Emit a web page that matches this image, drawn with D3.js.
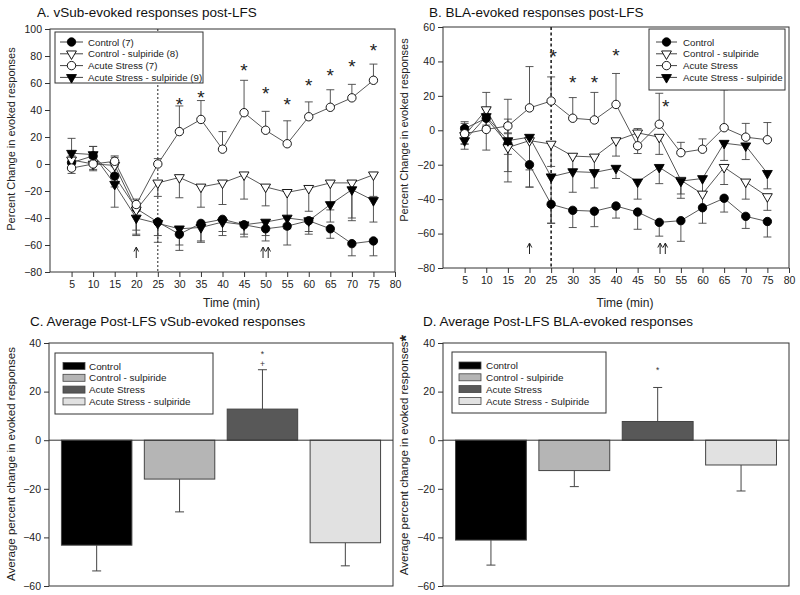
<!DOCTYPE html>
<html><head><meta charset="utf-8">
<script src="https://cdn.jsdelivr.net/npm/d3@7"></script>
<style>body{margin:0;background:#fff}svg{font-family:"Liberation Sans",Arial,sans-serif}</style>
</head><body><svg id="c" width="800" height="595"></svg>
<script>
// ---------- DATA ----------
const times = [5,10,15,20,25,30,35,40,45,50,55,60,65,70,75];
const xTicks = [5,10,15,20,25,30,35,40,45,50,55,60,65,70,75,80];

const A_control      = [1, 6, -9, -33, -43, -52, -44, -41, -45, -48, -46, -42, -48, -59, -57];
const A_control_err  = [5, 7, 8, 20, 15, 12, 14, 9, 9, 9, 14, 8, 7, 9, 11];
const A_ctrlSulp     = [3, 0, -1, -34, -14, -10, -17, -14, -8, -17, -21, -18, -14, -14, -8];
const A_ctrlSulp_err = [5, 5, 6, 15, 10, 15, 15, 16, 18, 14, 18, 17, 20, 26, 16];
const A_as           = [-3, 0, 2, -30, 0, 24, 33, 11, 38, 25, 15, 35, 42, 49, 62];
const A_as_err       = [4, 4, 4, 4, 4, 19, 14, 13, 24, 14, 17, 11, 13, 10, 12];
const A_asSulp       = [8, 7, -15, -40, -44, -48, -47, -43, -45, -43, -40, -42, -30, -19, -27];
const A_asSulp_err   = [11, 6, 17, 12, 9, 12, 10, 10, 7, 10, 8, 10, 13, 23, 16];
const A_starX = [30, 35, 45, 50, 55, 60, 65, 70, 75];
const A_starY = [47, 52, 72, 55, 47, 61, 68, 75, 87];
const A_legend = ["Control (7)", "Control - sulpiride (8)", "Acute Stress (7)", "Acute Stress - sulpiride (9)"];

const B_control      = [1, 7, -8, -20, -43, -46.5, -47, -44, -47.5, -53.5, -52.5, -45, -39.5, -50, -53];
const B_control_err  = [4, 5, 6, 13, 11, 10, 9, 7, 10, 8, 12, 9, 8, 7, 9];
const B_ctrlSulp     = [-3, 12, -10, -6, -8, -15, -15.5, -6, -1.5, -4, -29, -37, -21.5, -30, -38.5];
const B_ctrlSulp_err = [5, 10, 14, 17, 13, 8, 8, 9, 12, 10, 8, 8, 10, 10, 8];
const B_as           = [-2, 0.5, 2.5, 13, 17, 7, 6, 15, -9, 3.5, -13, -11, 1.5, -4, -5.5];
const B_as_err       = [6, 12, 4, 24, 14, 12, 16, 18, 10, 18, 6, 6, 22, 8, 10];
const B_asSulp       = [-6, 8, -6, -4, -27, -24, -24.5, -22, -30, -21.5, -29.5, -28, -7.5, -9, -25];
const B_asSulp_err   = [5, 5, 24, 29, 27, 12, 9, 6, 10, 9.5, 10, 8, 10, 8, 9];
const B_starX = [25.5, 30, 35, 40, 51.5];
const B_starY = [45, 30, 30, 45.5, 16];
const B_legend = ["Control", "Control - sulpiride", "Acute Stress", "Acute Stress - sulpiride"];

const barCats = ["Control", "Control - sulpiride", "Acute Stress", "Acute Stress - sulpiride"];
const C_vals = [-43.2, -16, 12.8, -42.2];
const C_err  = [10.6, 13.5, 16.2, 9.5];
const D_vals = [-41.1, -12.5, 7.7, -10.2];
const D_err  = [10.3, 6.6, 14, 10.7];
const D_legend = ["Control", "Control - sulpiride", "Acute Stress", "Acute Stress - Sulpiride"];

// ---------- STYLE ----------
const markerStyles = [
  {shape:"circle", fill:"#000"},
  {shape:"tri", fill:"#fff"},
  {shape:"circle", fill:"#fff"},
  {shape:"tri", fill:"#000"}
];
const errDir = [-1, -1, 1, -1];
const barFills = ["#000000", "#b5b5b5", "#585858", "#e1e1e1"];
const axisCol = "#333";
const svg = d3.select("#c");

function marker(g, st, x, y) {
  if (st.shape === "circle") {
    g.append("circle").attr("cx", x).attr("cy", y).attr("r", 4.2)
      .attr("fill", st.fill).attr("stroke", "#000").attr("stroke-width", 0.9);
  } else {
    g.append("path").attr("d", d3.symbol(d3.symbolTriangle, 42)())
      .attr("transform", `translate(${x},${y}) rotate(180)`)
      .attr("fill", st.fill).attr("stroke", "#000").attr("stroke-width", 0.9);
  }
}

function frameAxes(box, x, y, yTicks, xt) {
  const g = svg.append("g");
  g.append("rect").attr("x", box.l).attr("y", box.t).attr("width", box.r - box.l).attr("height", box.b - box.t)
    .attr("fill", "none").attr("stroke", axisCol).attr("stroke-width", 1);
  const ya = d3.axisLeft(y).tickValues(yTicks).tickSize(5).tickPadding(3);
  const yg = g.append("g").attr("transform", `translate(${box.l},0)`).call(ya);
  yg.select(".domain").remove();
  if (x) {
    const xa = d3.axisBottom(x).tickValues(xt).tickSize(5).tickPadding(4);
    const xg = g.append("g").attr("transform", `translate(0,${box.b})`).call(xa);
    xg.select(".domain").remove();
  }
  g.selectAll(".tick text").attr("font-size", 10.5).attr("fill", "#222").attr("font-family", "Liberation Sans, Arial, sans-serif");
  g.selectAll(".tick line").attr("stroke", axisCol);
}

function linePanel(box, yDom, series, errs, starX, starY, legendLabels, legBox, arrows, dash, titleTxt, titleX, ylabX, ylabY) {
  const x = d3.scaleLinear().domain([0, 80]).range([box.l, box.r]);
  const y = d3.scaleLinear().domain(yDom).range([box.b, box.t]);
  const yt = d3.range(yDom[0], yDom[1] + 1, 20);
  frameAxes(box, x, y, yt, xTicks);
  const g = svg.append("g");
  g.append("line").attr("x1", x(25)).attr("x2", x(25)).attr("y1", box.t).attr("y2", box.b)
    .attr("stroke", "#222").attr("stroke-width", dash.w).attr("stroke-dasharray", dash.d);
  const line = d3.line().x((d, i) => x(times[i])).y(d => y(d));
  series.forEach((s, k) => {
    s.forEach((v, i) => {
      const e = errs[k][i];
      const dirs = times[i] <= 15 ? [1, -1] : [errDir[k]];
      dirs.forEach(dr => {
        const ye = y(v + dr * e);
        g.append("line").attr("x1", x(times[i])).attr("x2", x(times[i])).attr("y1", y(v)).attr("y2", ye)
          .attr("stroke", "#444").attr("stroke-width", 0.9);
        g.append("line").attr("x1", x(times[i]) - 4).attr("x2", x(times[i]) + 4).attr("y1", ye).attr("y2", ye)
          .attr("stroke", "#444").attr("stroke-width", 0.9);
      });
    });
  });
  series.forEach((s) => {
    g.append("path").attr("d", line(s)).attr("fill", "none").attr("stroke", "#444").attr("stroke-width", 0.9);
  });
  series.forEach((s, k) => s.forEach((v, i) => marker(g, markerStyles[k], x(times[i]), y(v))));
  starX.forEach((sx, i) => {
    g.append("text").attr("x", x(sx)).attr("y", y(starY[i]) + 10).attr("text-anchor", "middle")
      .attr("font-size", 19).attr("fill", "#222").text("*");
  });
  arrows.forEach(ax => {
    const xx = x(ax);
    g.append("line").attr("x1", xx).attr("x2", xx).attr("y1", box.b - 14).attr("y2", box.b - 24).attr("stroke", "#222").attr("stroke-width", 1);
    g.append("path").attr("d", `M${xx - 2.3},${box.b - 20.5} L${xx},${box.b - 25} L${xx + 2.3},${box.b - 20.5}`)
      .attr("fill", "none").attr("stroke", "#222").attr("stroke-width", 1);
  });
  const lg = svg.append("g");
  lg.append("rect").attr("x", legBox.l).attr("y", legBox.t).attr("width", legBox.r - legBox.l).attr("height", legBox.b - legBox.t)
    .attr("fill", "#fff").attr("stroke", axisCol).attr("stroke-width", 1);
  legendLabels.forEach((lab, k) => {
    const yy = legBox.row0 + k * 11.8;
    lg.append("line").attr("x1", legBox.l1).attr("x2", legBox.l2).attr("y1", yy).attr("y2", yy).attr("stroke", "#444");
    marker(lg, markerStyles[k], (legBox.l1 + legBox.l2) / 2, yy);
    lg.append("text").attr("x", legBox.tx).attr("y", yy + 3.6).attr("font-size", 9.7).attr("fill", "#222").text(lab);
  });
  svg.append("text").attr("x", titleX).attr("y", 17).attr("font-size", 13.5).attr("fill", "#111").text(titleTxt);
  svg.append("text").attr("transform", `translate(${ylabX},${ylabY}) rotate(-90)`).attr("text-anchor", "middle")
    .attr("font-size", 11).attr("fill", "#222").text("Percent Change in evoked responses");
  svg.append("text").attr("x", (box.l + box.r) / 2 + 9).attr("y", 307).attr("text-anchor", "middle")
    .attr("font-size", 12).attr("fill", "#222").text("Time (min)");
}

function barPanel(box, vals, errs, legendLabels, legBox, marks, titleTxt, titleX, ylabX, ylabY, ylabStar) {
  const x = d3.scaleBand().domain(barCats).range([box.l, box.r]).paddingInner(0.15).paddingOuter(0.15);
  const y = d3.scaleLinear().domain([-60, 40]).range([box.b, box.t]);
  frameAxes(box, null, y, [-60, -40, -20, 0, 20, 40], null);
  const g = svg.append("g");
  barCats.forEach((c, i) => {
    const v = vals[i];
    const cx = x(c) + x.bandwidth() / 2;
    const ye = y(v + Math.sign(v) * errs[i]);
    g.append("line").attr("x1", cx).attr("x2", cx).attr("y1", y(v)).attr("y2", ye).attr("stroke", "#444");
    g.append("line").attr("x1", cx - 4.5).attr("x2", cx + 4.5).attr("y1", ye).attr("y2", ye).attr("stroke", "#444");
    g.append("rect").attr("x", x(c)).attr("width", x.bandwidth())
      .attr("y", Math.min(y(v), y(0))).attr("height", Math.abs(y(v) - y(0)))
      .attr("fill", barFills[i]).attr("stroke", "#444").attr("stroke-width", 1);
  });
  g.append("line").attr("x1", box.l).attr("x2", box.r).attr("y1", y(0)).attr("y2", y(0)).attr("stroke", axisCol);
  const cx2 = x(barCats[2]) + x.bandwidth() / 2;
  marks.forEach((m) => {
    g.append("text").attr("x", cx2).attr("y", m.y).attr("text-anchor", "middle")
      .attr("font-size", 8.5).attr("fill", "#333").text(m.t);
  });
  const lg = svg.append("g");
  lg.append("rect").attr("x", legBox.l).attr("y", legBox.t).attr("width", legBox.r - legBox.l).attr("height", legBox.b - legBox.t)
    .attr("fill", "#fff").attr("stroke", axisCol);
  legendLabels.forEach((lab, k) => {
    const yy = legBox.row0 + k * 11.8;
    lg.append("rect").attr("x", legBox.s1).attr("y", yy - 3.5).attr("width", legBox.s2 - legBox.s1).attr("height", 7)
      .attr("fill", barFills[k]).attr("stroke", "#444").attr("stroke-width", 0.8);
    lg.append("text").attr("x", legBox.tx).attr("y", yy + 3.6).attr("font-size", 9.9).attr("fill", "#222").text(lab);
  });
  svg.append("text").attr("x", titleX).attr("y", 326).attr("font-size", 13.5).attr("fill", "#111").text(titleTxt);
  const yl = svg.append("text").attr("transform", `translate(${ylabX},${ylabY}) rotate(-90)`).attr("text-anchor", "middle")
    .attr("font-size", 11.5).attr("fill", "#222");
  yl.append("tspan").text("Average percent change in evoked responses");
  if (ylabStar) yl.append("tspan").attr("font-size", 17).attr("font-weight", "bold").attr("dy", 4).text("*");
}

linePanel({l: 50, r: 395, t: 29, b: 272}, [-80, 100],
  [A_control, A_ctrlSulp, A_as, A_asSulp], [A_control_err, A_ctrlSulp_err, A_as_err, A_asSulp_err],
  A_starX, A_starY, A_legend,
  {l: 55, r: 203, t: 32, b: 83, row0: 42, l1: 60, l2: 83, tx: 88},
  [20, 49.4, 50.6], {w: 1, d: "2,2"},
  "A. vSub-evoked responses post-LFS", 37, 15, 139);

linePanel({l: 443, r: 789, t: 27, b: 268}, [-80, 60],
  [B_control, B_ctrlSulp, B_as, B_asSulp], [B_control_err, B_ctrlSulp_err, B_as_err, B_asSulp_err],
  B_starX, B_starY, B_legend,
  {l: 649, r: 785, t: 29, b: 90, row0: 42, l1: 656, l2: 677, tx: 683},
  [20, 50.2, 51.4], {w: 1.6, d: "3,2.5"},
  "B. BLA-evoked responses post-LFS", 429, 408, 130);

barPanel({l: 49, r: 393, t: 343, b: 586}, C_vals, C_err, barCats,
  {l: 55, r: 213, t: 353, b: 414, row0: 366, s1: 63, s2: 85, tx: 89},
  [{t: "*", y: 357}, {t: "+", y: 367}],
  "C. Average Post-LFS vSub-evoked responses", 30, 15, 464, false);

barPanel({l: 443, r: 789, t: 343, b: 586}, D_vals, D_err, D_legend,
  {l: 452, r: 606, t: 352, b: 413, row0: 365.5, s1: 459, s2: 481, tx: 486},
  [{t: "*", y: 373}],
  "D. Average Post-LFS BLA-evoked responses", 423, 408, 455, true);
</script>
</body></html>
